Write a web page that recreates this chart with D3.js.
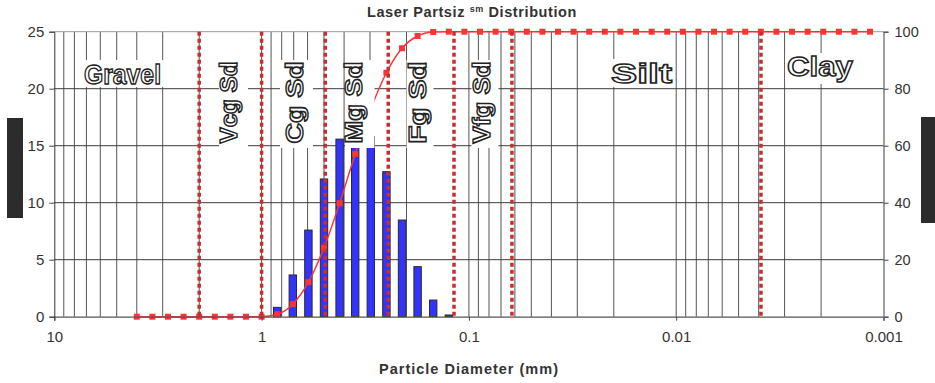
<!DOCTYPE html>
<html>
<head>
<meta charset="utf-8">
<script src="https://cdn.jsdelivr.net/npm/d3@7"></script>
<style>
  html, body { margin: 0; padding: 0; background: #fff; }
  svg { display: block; font-family: "Liberation Sans", Arial, sans-serif; }
</style>
</head>
<body>
<svg id="chart" width="935" height="383"></svg>
<script>
// Sieve classes (phi units) and weight percent retained in each class
const binPhi = [0.25, 0.5, 0.75, 1, 1.25, 1.5, 1.75, 2, 2.25, 2.5, 2.75, 3];
const binPercent = [0.82, 3.66, 7.6, 12.08, 15.58, 17.3, 15.8, 12.72, 8.48, 4.39, 1.46, 0.15];

// Cumulative percent finer curve, sampled every quarter phi
const cumPhi = [-2, -1.75, -1.5, -1.25, -1, -0.75, -0.5, -0.25, 0,
  0.25, 0.5, 0.75, 1, 1.25, 1.5, 1.75, 2, 2.25, 2.5, 2.75,
  3, 3.25, 3.5, 3.75, 4, 4.25, 4.5, 4.75, 5, 5.25, 5.5, 5.75,
  6, 6.25, 6.5, 6.75, 7, 7.25, 7.5, 7.75, 8, 8.25, 8.5, 8.75,
  9, 9.25, 9.5, 9.75];
const cumPercent = [0, 0, 0, 0, 0, 0, 0, 0, 0,
  0.84, 4.4, 12.1, 24.2, 39.8, 57.1, 72.9, 85.6, 94.2, 98.5, 99.9,
  100, 100, 100, 100, 100, 100, 100, 100, 100, 100, 100, 100,
  100, 100, 100, 100, 100, 100, 100, 100, 100, 100, 100, 100,
  100, 100, 100, 100];

// Wentworth class boundaries (mm)
const boundaries = [2, 1, 0.493, 0.245, 0.118, 0.062, 0.0039];

// Axis ticks
const xTicks = [10, 1, 0.1, 0.01, 0.001];
const xTickLabels = ["10", "1", "0.1", "0.01", "0.001"];
const yLeftTicks = [0, 5, 10, 15, 20, 25];
const yRightTicks = [0, 20, 40, 60, 80, 100];

// Size class labels
const horizontalLabels = [
  { text: "Gravel", x: 84, y: 83.5, len: 77, box: [81, 60, 84, 27] },
  { text: "Silt", x: 611, y: 82.5, len: 61, box: [609, 59, 66, 28] },
  { text: "Clay", x: 787, y: 75.5, len: 66, box: [785, 53, 72, 31] }
];
const verticalLabels = [
  { text: "Vcg Sd", x: 237, box: [219, 248] },
  { text: "Cg Sd", x: 303, box: [280, 313] },
  { text: "Mg Sd", x: 362, box: [345, 374.5] },
  { text: "Fg Sd", x: 426, box: [406.5, 433.5] },
  { text: "Vfg Sd", x: 490, box: [471.5, 498.5] }
];

const svg = d3.select("#chart");
const plotL = 54.3, plotR = 883.5, plotT = 31.7, plotB = 316.7;

const x = d3.scaleLog().domain([10, 0.001]).range([plotL, plotR]);
const yL = d3.scaleLinear().domain([0, 25]).range([plotB, plotT]);
const yR = d3.scaleLinear().domain([0, 100]).range([plotB, plotT]);
const phiToMm = p => Math.pow(2, -p);

// Black side tabs
svg.append("rect").attr("x", 7).attr("y", 118).attr("width", 16).attr("height", 100).attr("fill", "#2c2c2c");
svg.append("rect").attr("x", 921).attr("y", 117).attr("width", 14).attr("height", 106).attr("fill", "#2c2c2c");

// Vertical log gridlines
const grid = svg.append("g");
grid.selectAll("line.v")
  .data(x.ticks().filter(d => d < 10 && d > 0.001))
  .join("line")
  .attr("class", "v")
  .attr("x1", d => x(d)).attr("x2", d => x(d))
  .attr("y1", plotT).attr("y2", plotB)
  .attr("stroke", "#555").attr("stroke-width", 1);

// Horizontal gridlines
grid.selectAll("line.h")
  .data(yLeftTicks.filter(d => d > 0))
  .join("line")
  .attr("class", "h")
  .attr("x1", plotL).attr("x2", plotR)
  .attr("y1", d => yL(d)).attr("y2", d => yL(d))
  .attr("stroke", d => d === 25 ? "#999" : "#3a3a3a").attr("stroke-width", 1);

// Histogram bars
const barW = 7.4;
svg.append("g").selectAll("rect")
  .data(binPhi.map((p, i) => ({ d: phiToMm(p), v: binPercent[i] })))
  .join("rect")
  .attr("x", d => x(d.d) - barW / 2)
  .attr("y", d => yL(d.v))
  .attr("width", barW)
  .attr("height", d => yL(0) - yL(d.v))
  .attr("fill", "#3333ff")
  .attr("stroke", "#2a2a2a")
  .attr("stroke-width", 1);

// Cumulative curve
const cum = cumPhi.map((p, i) => ({ d: phiToMm(p), v: cumPercent[i] }));
const line = d3.line().x(d => x(d.d)).y(d => yR(d.v)).curve(d3.curveMonotoneX);
svg.append("path").datum(cum)
  .attr("d", line)
  .attr("fill", "none").attr("stroke", "#ff3333").attr("stroke-width", 1.5);
svg.append("g").selectAll("rect")
  .data(cum)
  .join("rect")
  .attr("x", d => x(d.d) - 3).attr("y", d => yR(d.v) - 3)
  .attr("width", 6).attr("height", 6)
  .attr("fill", "#ff3333");

// Label backgrounds and outlined class names
const labels = svg.append("g");
horizontalLabels.forEach(l => {
  labels.append("rect").attr("x", l.box[0]).attr("y", l.box[1])
    .attr("width", l.box[2]).attr("height", l.box[3]).attr("fill", "#fff");
  labels.append("text").attr("x", l.x).attr("y", l.y)
    .attr("font-size", 28).attr("font-weight", "bold")
    .attr("textLength", l.len).attr("lengthAdjust", "spacingAndGlyphs")
    .attr("fill", "#fff").attr("stroke", "#222").attr("stroke-width", 1.4)
    .text(l.text);
});
verticalLabels.forEach(l => {
  labels.append("rect").attr("x", l.box[0]).attr("y", 60)
    .attr("width", l.box[1] - l.box[0]).attr("height", 88).attr("fill", "#fff");
  labels.append("text")
    .attr("transform", `translate(${l.x},143.5) rotate(-90)`)
    .attr("font-size", 23).attr("font-weight", "bold")
    .attr("textLength", 82).attr("lengthAdjust", "spacingAndGlyphs")
    .attr("fill", "#fff").attr("stroke", "#222").attr("stroke-width", 1.4)
    .text(l.text);
});

// Class boundary lines
svg.append("g").selectAll("line")
  .data(boundaries)
  .join("line")
  .attr("x1", d => x(d)).attr("x2", d => x(d))
  .attr("y1", plotT).attr("y2", plotB)
  .attr("stroke", "#c62f2f").attr("stroke-width", 3.5)
  .attr("stroke-dasharray", "4,3");

// Axes
const axisColor = "#333";
const gx = svg.append("g").attr("transform", `translate(0,${plotB})`)
  .call(d3.axisBottom(x).tickValues(xTicks).tickFormat((d, i) => xTickLabels[i]).tickSize(4).tickPadding(11));
const gl = svg.append("g").attr("transform", `translate(${plotL},0)`)
  .call(d3.axisLeft(yL).tickValues(yLeftTicks).tickSize(5).tickPadding(5));
const gr = svg.append("g").attr("transform", `translate(${plotR},0)`)
  .call(d3.axisRight(yR).tickValues(yRightTicks).tickSize(5).tickPadding(6));
[gx, gl, gr].forEach(g => {
  g.selectAll("text").attr("font-size", 15).attr("fill", axisColor)
    .attr("font-family", '"Liberation Sans", Arial, sans-serif');
  g.selectAll(".tick line").attr("stroke", "#444");
});
gr.selectAll("text").attr("font-size", 14.5);
gx.select(".domain").attr("stroke", "#555").attr("stroke-width", 1.2);
gl.select(".domain").attr("stroke", "#333");
gr.select(".domain").attr("stroke", "#888").attr("stroke-width", 1.6);

// Title
const title = svg.append("text")
  .attr("x", 472).attr("y", 17)
  .attr("text-anchor", "middle")
  .attr("font-size", 14.5).attr("font-weight", "bold")
  .attr("letter-spacing", 0.6)
  .attr("fill", "#333");
title.append("tspan").text("Laser Partsiz ");
title.append("tspan").attr("font-size", 9).attr("dy", -5).text("sm");
title.append("tspan").attr("dy", 5).text(" Distribution");

// X axis title
svg.append("text")
  .attr("x", 469).attr("y", 374)
  .attr("text-anchor", "middle")
  .attr("font-size", 14.5).attr("font-weight", "bold")
  .attr("letter-spacing", 1)
  .attr("fill", "#333")
  .text("Particle Diameter (mm)");
</script>
</body>
</html>
